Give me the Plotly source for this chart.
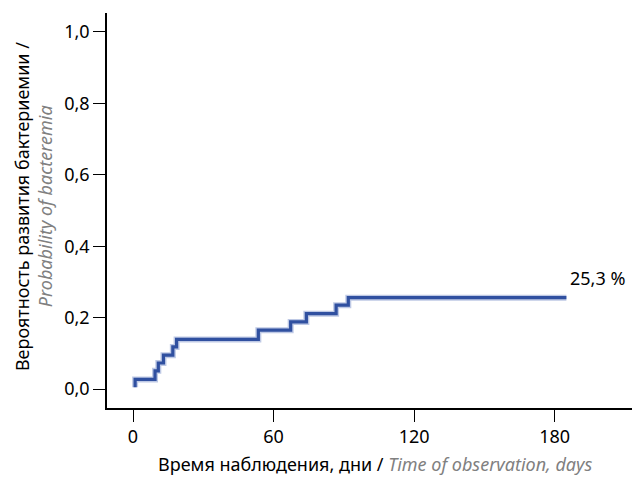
import plotly.graph_objects as go

# Step curve (cumulative probability of bacteremia)
days = [0.9, 0.9, 9.4, 10.8, 13.0, 17.0, 18.6, 53.5, 67.3, 74.0, 86.7, 91.9, 185.0]
probability = [0.005, 0.027, 0.051, 0.073, 0.095, 0.118, 0.139, 0.165, 0.188, 0.211, 0.235, 0.256, 0.256]

x_ticks = [0, 60, 120, 180]
y_ticks = [0.0, 0.2, 0.4, 0.6, 0.8, 1.0]
y_tick_labels = ["0,0", "0,2", "0,4", "0,6", "0,8", "1,0"]
final_label = "25,3 %"

FONT = "Noto Sans"
FS = 18

fig = go.Figure()
# soft halo to mimic the slightly blurred line
fig.add_trace(go.Scatter(x=days, y=probability, mode="lines", line_shape="hv",
                         line=dict(color="rgba(70,100,180,0.35)", width=6),
                         hoverinfo="skip", showlegend=False))
fig.add_trace(go.Scatter(x=days, y=probability, mode="lines", line_shape="hv",
                         line=dict(color="#3050a0", width=3.2),
                         showlegend=False))

fig.add_annotation(x=days[-1], y=probability[-1], text=final_label, showarrow=False,
                   xanchor="left", yanchor="middle", xshift=2, yshift=20,
                   font=dict(family=FONT, size=FS, color="black"))

# y-axis title (two lines)
fig.add_annotation(xref="paper", yref="paper", x=-0.162, y=0.511,
                   text="Вероятность развития бактериемии /", textangle=-90,
                   showarrow=False, xanchor="center", yanchor="middle",
                   font=dict(family=FONT, size=FS, color="black"))
fig.add_annotation(xref="paper", yref="paper", x=-0.118, y=0.511,
                   text="<i>Probability of bacteremia</i>", textangle=-90,
                   showarrow=False, xanchor="center", yanchor="middle",
                   font=dict(family=FONT, size=FS, color="#808080"))
# x-axis title
fig.add_annotation(xref="paper", yref="paper", x=0.51, y=-0.1747,
                   text="Время наблюдения, дни / <span style='color:#808080'><i>Time of observation, days</i></span>",
                   showarrow=False, xanchor="center", yanchor="bottom", borderpad=0,
                   font=dict(family=FONT, size=FS, color="black"))

fig.update_layout(
    width=636, height=477,
    margin=dict(l=107, r=4, t=13, b=69),
    paper_bgcolor="white", plot_bgcolor="white",
    font=dict(family=FONT, size=FS, color="black"),
    xaxis=dict(range=[-11.1, 213], tickvals=x_ticks, ticks="outside", ticklen=12,
               tickwidth=1.2, tickcolor="black", showline=True, linecolor="black",
               linewidth=1.5, showgrid=False, zeroline=False,
               tickfont=dict(family=FONT, size=FS)),
    yaxis=dict(range=[-0.053, 1.053], tickvals=y_ticks, ticktext=y_tick_labels,
               ticks="outside", ticklen=12, tickwidth=1.2, tickcolor="black",
               showline=True, linecolor="black", linewidth=1.5, showgrid=False,
               zeroline=False, tickfont=dict(family=FONT, size=FS)),
)

fig.write_html("out.html", config={"displayModeBar": False},
               post_script="document.body.style.margin='0';")
